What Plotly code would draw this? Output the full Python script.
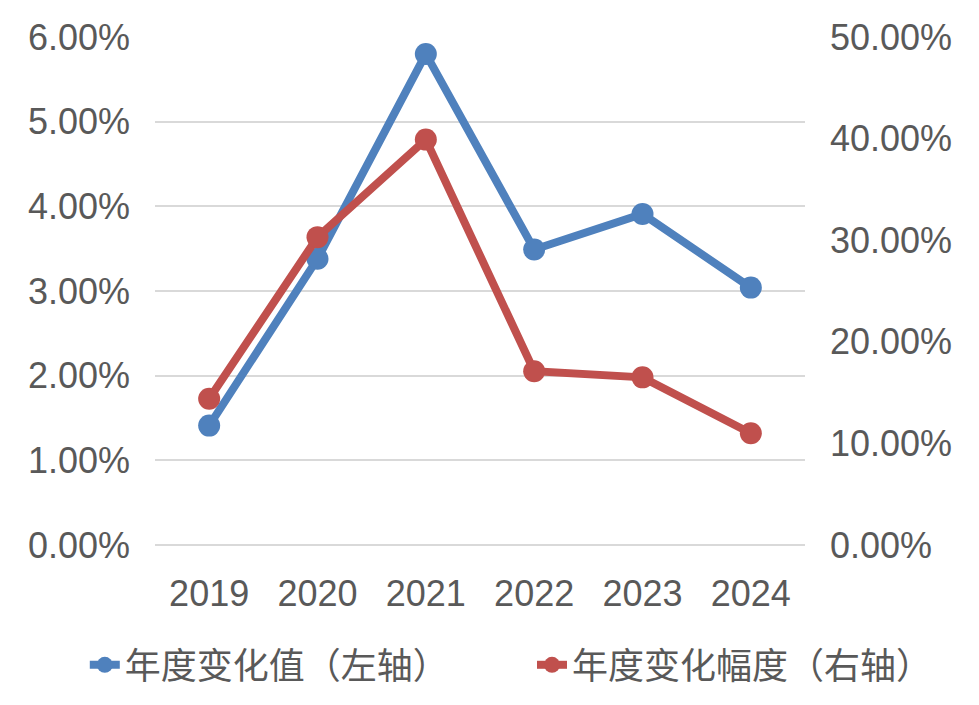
import plotly.graph_objects as go

years = ["2019", "2020", "2021", "2022", "2023", "2024"]
change_value = [1.41, 3.38, 5.80, 3.49, 3.91, 3.04]        # left axis, %
change_rate = [14.4, 30.3, 39.9, 17.1, 16.5, 11.0]          # right axis, %

BLUE = "#4F81BD"
RED = "#C0504D"
GREY = "#595959"

fig = go.Figure()
fig.add_trace(go.Scatter(
    x=years, y=change_value, name="年度变化值（左轴）",
    mode="lines+markers",
    line=dict(color=BLUE, width=8),
    marker=dict(color=BLUE, size=22),
    legend="legend",
))
fig.add_trace(go.Scatter(
    x=years, y=change_rate, name="年度变化幅度（右轴）",
    mode="lines+markers", yaxis="y2",
    line=dict(color=RED, width=8),
    marker=dict(color=RED, size=22),
    legend="legend2",
))

legend_font = dict(family="Noto Sans CJK SC", size=36, color=GREY)

# page body adds an 8px offset, margins are trimmed to compensate
fig.update_layout(
    width=979, height=705,
    margin=dict(l=147, r=182, t=29, b=168, autoexpand=False),
    paper_bgcolor="white", plot_bgcolor="white",
    font=dict(family="Liberation Sans, Arial, Noto Sans CJK SC", size=36, color=GREY),
    showlegend=True,
    legend=dict(
        orientation="h", x=-0.108, xanchor="left",
        y=-0.236, yanchor="middle", font=legend_font,
    ),
    legend2=dict(
        orientation="h", x=0.58, xanchor="left",
        y=-0.236, yanchor="middle", font=legend_font,
    ),
    xaxis=dict(
        type="category", range=[-0.5, 5.5], showgrid=False, zeroline=False,
        showline=False, ticks="", ticklabelstandoff=24, automargin=False,
    ),
    yaxis=dict(
        range=[0, 6], dtick=1, tickformat=".2f", ticksuffix="%",
        showgrid=True, gridcolor="#D9D9D9", gridwidth=2,
        zeroline=True, zerolinecolor="#D9D9D9", zerolinewidth=2,
        showline=False, ticks="", ticklabelstandoff=24, automargin=False,
    ),
    yaxis2=dict(
        range=[0, 50], dtick=10, tickformat=".2f", ticksuffix="%",
        overlaying="y", side="right", showgrid=False,
        zeroline=False, showline=False, ticks="", ticklabelstandoff=24,
        automargin=False,
    ),
)

fig.write_html("out.html")
